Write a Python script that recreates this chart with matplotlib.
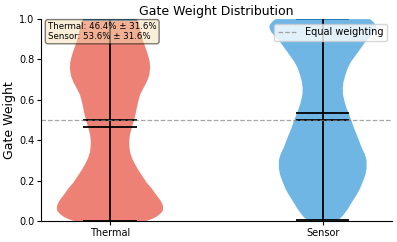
import matplotlib
matplotlib.use("Agg")
import matplotlib.pyplot as plt

# gate weights
labels = ["Thermal", "Sensor"]
colors = ["#e74c3c", "#3498db"]
means = [0.464, 0.536]
stds = [0.316, 0.316]
medians = [0.50, 0.50]
mins = [0.0, 0.006]
maxes = [0.994, 1.0]

# violin outline: gate weight value -> relative half width
thermal_y = [0.0, 0.01, 0.02, 0.035, 0.05, 0.065, 0.08, 0.10, 0.12, 0.14,
             0.16, 0.19, 0.22, 0.25, 0.28, 0.31, 0.34, 0.37, 0.40, 0.43,
             0.46, 0.50, 0.53, 0.56, 0.59, 0.626, 0.66, 0.69, 0.72, 0.757,
             0.79, 0.82, 0.85, 0.87, 0.90, 0.93, 0.96, 0.994]
thermal_w = [36, 42, 46, 50, 52.5, 53, 52.5, 50.5, 47.5, 44.5,
             41.7, 36.5, 32.5, 28.5, 25, 22, 20, 19.3, 19.2, 20,
             21.5, 24, 25.5, 26.7, 28, 30, 33.5, 36.7, 39, 40,
             39.5, 38, 36, 34.5, 32.5, 31, 29.5, 28]
sensor_y = [0.006, 0.015, 0.03, 0.06, 0.096, 0.13, 0.16, 0.20, 0.23, 0.26,
            0.30, 0.33, 0.36, 0.40, 0.43, 0.46, 0.50, 0.53, 0.56, 0.59,
            0.626, 0.66, 0.69, 0.72, 0.76, 0.79, 0.82, 0.85, 0.888, 0.91,
            0.937, 0.955, 0.97, 0.987, 1.0]
sensor_w = [14, 16.5, 19, 23, 27, 31, 34, 37, 39, 40,
            40, 38.5, 35.8, 33, 30.8, 28.5, 26, 23.8, 21.7, 20,
            18.5, 18.3, 19, 20.5, 23, 26, 30, 34, 39, 43,
            47, 48.5, 48.5, 46, 43]

stats = [
    dict(coords=thermal_y, vals=thermal_w, mean=means[0], median=medians[0],
         min=mins[0], max=maxes[0]),
    dict(coords=sensor_y, vals=sensor_w, mean=means[1], median=medians[1],
         min=mins[1], max=maxes[1]),
]

fig = plt.figure(figsize=(3.97, 2.42), dpi=100)
ax = fig.add_axes([0.103, 0.087, 0.884, 0.834])

parts = ax.violin(stats, positions=[1, 2], widths=0.5,
                  showmeans=True, showmedians=True, showextrema=True)
for body, c in zip(parts['bodies'], colors):
    body.set_facecolor(c)
    body.set_edgecolor('none')
    body.set_alpha(0.7)
for key in ['cbars', 'cmins', 'cmeans', 'cmedians']:
    parts[key].set_color('black')
    parts[key].set_linewidth(1.3)
parts['cmaxes'].set_color('#1f77b4')
parts['cmaxes'].set_linewidth(1.3)

ax.axhline(0.5, color='gray', linestyle='--', alpha=0.7, linewidth=0.9,
           label='Equal weighting')

ax.set_xticks([1, 2])
ax.set_xticklabels(labels, fontsize=7)
ax.tick_params(axis='x', pad=2, length=3)
ax.set_ylim(0, 1)
ax.set_xlim(0.675, 2.325)
ax.tick_params(axis='y', labelsize=7, pad=1.5, length=3)
ax.set_ylabel('Gate Weight', fontsize=9)
ax.yaxis.set_label_coords(-0.07, 0.5)
ax.set_title('Gate Weight Distribution', fontsize=9, pad=3)
ax.spines['top'].set_visible(False)
ax.spines['right'].set_visible(False)

txt = (f"Thermal: {means[0]*100:.1f}% ± {stds[0]*100:.1f}%\n"
       f"Sensor: {means[1]*100:.1f}% ± {stds[1]*100:.1f}%")
ax.text(0.02, 0.985, txt, transform=ax.transAxes, fontsize=6.2, va='top',
        linespacing=1.15,
        bbox=dict(boxstyle='round,pad=0.3', facecolor='wheat', alpha=0.5))
ax.legend(loc='upper right', fontsize=7, handlelength=2.0,
          borderpad=0.35, bbox_to_anchor=(1.0, 1.0))

fig.savefig('out.png', dpi=100)
